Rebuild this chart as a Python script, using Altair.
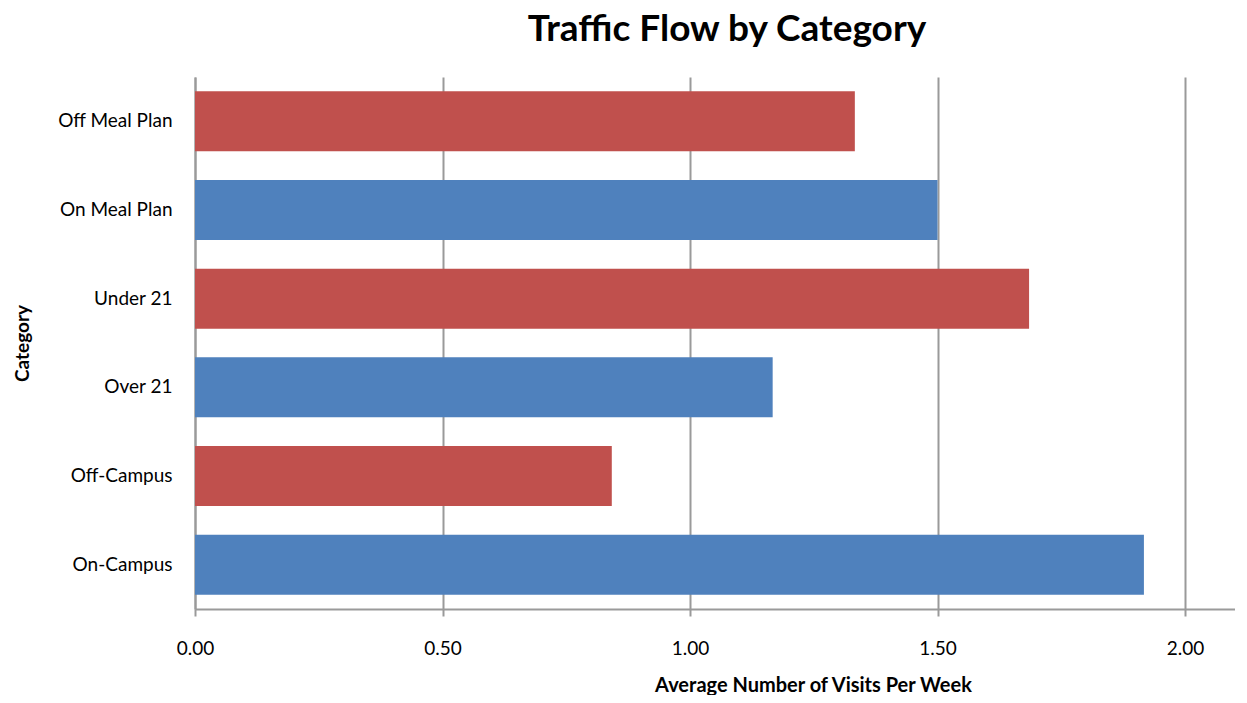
import altair as alt
import pandas as pd

categories = ["Off Meal Plan", "On Meal Plan", "Under 21", "Over 21", "Off-Campus", "On-Campus"]
values = [1.333, 1.50, 1.685, 1.167, 0.842, 1.917]
groups = ["red", "blue", "red", "blue", "red", "blue"]
tick_values = [0.0, 0.5, 1.0, 1.5, 2.0]

df = pd.DataFrame({"Category": categories, "Value": values, "Group": groups})

FONT = "Lato"

chart = alt.Chart(df).mark_bar(size=60).encode(
    y=alt.Y("Category:N", sort=categories,
            scale=alt.Scale(paddingInner=0.32, paddingOuter=0.16),
            axis=alt.Axis(title="Category", ticks=False, labelPadding=23,
                          labelFontSize=19, labelFont=FONT, labelColor="#000000",
                          titleFont=FONT, titleFontSize=19, titleFontWeight="bold",
                          titleColor="#000000", titleX=-173, titleY=266,
                          titleAngle=-90, titleBaseline="middle", titleAlign="center",
                          domainColor="#9a9a9a", domainWidth=2, grid=False)),
    x=alt.X("Value:Q", scale=alt.Scale(domain=[0, 2.101], nice=False, zero=True),
            axis=alt.Axis(title="Average Number of Visits Per Week", values=tick_values,
                          format=".2f", tickSize=7, tickColor="#9a9a9a", tickWidth=2,
                          labelPadding=23, labelFontSize=19, labelFont=FONT,
                          labelFlush=False,
                          labelColor="#000000", titleFont=FONT, titleFontSize=20,
                          titleFontWeight="bold", titleColor="#000000",
                          titleX=618, titleY=76, titleBaseline="middle",
                          titleAlign="center", domainColor="#9a9a9a", domainWidth=2,
                          grid=True, gridColor="#9a9a9a", gridWidth=2)),
    color=alt.Color("Group:N", scale=alt.Scale(domain=["red", "blue"],
                                               range=["#C0504D", "#4F81BD"]),
                    legend=None),
).properties(
    width=1040,
    height=532,
    title=alt.TitleParams("Traffic Flow by Category", fontSize=37, font=FONT,
                          fontWeight="bold", color="#000000", anchor="middle",
                          offset=28, dx=12),
    autosize=alt.AutoSizeParams(type="none"),
    padding={"left": 187, "top": 69, "right": 0, "bottom": 86},
).configure_view(stroke=None)

chart.save("out.html", embed_options={"renderer": "svg", "actions": False})
